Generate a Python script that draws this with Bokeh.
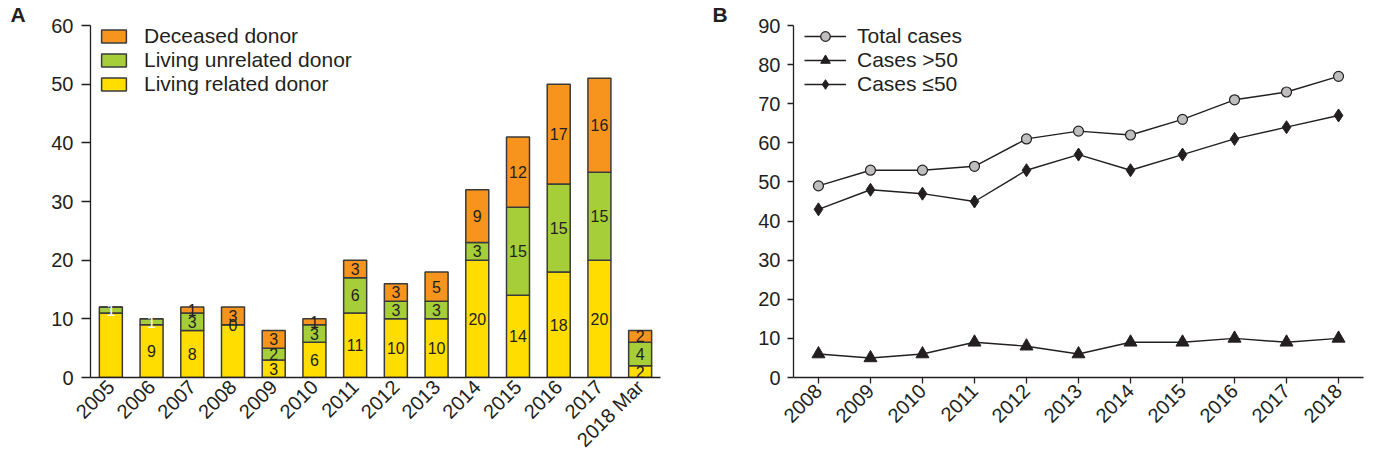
import math
from bokeh.plotting import figure
from bokeh.models import (FactorRange, Range1d, Legend, LegendItem,
                          FixedTicker, ColumnDataSource, Title)
from bokeh.layouts import row
from bokeh.embed import file_html
from bokeh.resources import INLINE
from bokeh.core.properties import value

# ---------------- Panel A data ----------------
years_a = ["2005", "2006", "2007", "2008", "2009", "2010", "2011", "2012",
           "2013", "2014", "2015", "2016", "2017", "2018 Mar"]
related = [11, 9, 8, 9, 3, 6, 11, 10, 10, 20, 14, 18, 20, 2]
unrelated = [1, 1, 3, 0, 2, 3, 6, 3, 3, 3, 15, 15, 15, 4]
deceased = [0, 0, 1, 3, 3, 1, 3, 3, 5, 9, 12, 17, 16, 2]
# labels not printed in the original figure
hidden_related = ["2005", "2008"]
hidden_deceased = ["2005", "2006"]
white_unrelated = ["2005", "2006"]

# ---------------- Panel B data ----------------
years_b = [2008, 2009, 2010, 2011, 2012, 2013, 2014, 2015, 2016, 2017, 2018]
total_cases = [49, 53, 53, 54, 61, 63, 62, 66, 71, 73, 77]
cases_over50 = [6, 5, 6, 9, 8, 6, 9, 9, 10, 9, 10]
cases_under50 = [43, 48, 47, 45, 53, 57, 53, 57, 61, 64, 67]

FONT = "Liberation Sans"
INK = "#231F20"
YELLOW = "#FFDD00"
GREEN = "#A6CE39"
ORANGE = "#F7941D"
EDGE = "#3A3A3A"

H = 461
BT, BB = 25, 84


def panel_title(letter, offset):
    return Title(text=letter, align="left", offset=offset, standoff=0,
                 vertical_align="bottom", text_font=FONT,
                 text_font_size="21px", text_font_style="bold",
                 text_color=INK)


def style_axes(p, xtick_out, xstandoff, ytick_out, ystandoff):
    for ax in (p.xaxis[0], p.yaxis[0]):
        ax.axis_line_color = INK
        ax.axis_line_width = 1.3
        ax.major_tick_line_color = INK
        ax.major_tick_line_width = 1.3
        ax.major_tick_in = 0
        ax.minor_tick_line_color = None
        ax.major_label_text_font = FONT
        ax.major_label_text_font_size = "20px"
        ax.major_label_text_color = INK
    p.yaxis[0].major_tick_out = ytick_out
    p.yaxis[0].major_label_standoff = ystandoff
    p.xaxis[0].major_tick_out = xtick_out
    p.xaxis[0].major_label_standoff = xstandoff
    p.xaxis[0].major_label_orientation = math.pi / 4
    p.xgrid.visible = False
    p.ygrid.visible = False
    p.outline_line_color = None


# ================= Panel A =================
pa = figure(x_range=FactorRange(factors=years_a, range_padding=0),
            y_range=Range1d(0, 60), width=700, height=H,
            title=panel_title("A", -80),
            output_backend="svg", toolbar_location=None,
            min_border_left=90, min_border_right=40,
            min_border_top=BT, min_border_bottom=BB)
style_axes(pa, 0, 6, 9, 8)
pa.yaxis[0].ticker = FixedTicker(ticks=[0, 10, 20, 30, 40, 50, 60])

src = ColumnDataSource(dict(x=years_a, related=related,
                            unrelated=unrelated, deceased=deceased))
rs = pa.vbar_stack(["related", "unrelated", "deceased"], x="x", width=0.565,
                   fill_color=[YELLOW, GREEN, ORANGE], line_color=EDGE,
                   line_width=1.5, source=src)

lx, ly, lt, lc = [], [], [], []
for i, yr in enumerate(years_a):
    r, u, d = related[i], unrelated[i], deceased[i]
    if yr not in hidden_related:
        lx.append(yr); ly.append(r / 2); lt.append(str(r)); lc.append(INK)
    lx.append(yr); ly.append(r + u / 2); lt.append(str(u))
    lc.append("white" if yr in white_unrelated else INK)
    if yr not in hidden_deceased:
        lx.append(yr); ly.append(r + u + d / 2); lt.append(str(d)); lc.append(INK)
pa.text(x="x", y="y", text="t", text_color="c",
        source=ColumnDataSource(dict(x=lx, y=ly, t=lt, c=lc)),
        text_align="center", text_baseline="middle",
        text_font=value(FONT), text_font_size="16px")

leg_a = Legend(items=[LegendItem(label="Deceased donor", renderers=[rs[2]]),
                      LegendItem(label="Living unrelated donor", renderers=[rs[1]]),
                      LegendItem(label="Living related donor", renderers=[rs[0]])],
               location=(8, 281), padding=0, margin=0, spacing=0,
               glyph_width=31, glyph_height=16, label_height=24,
               label_standoff=15, label_text_font=FONT,
               label_text_font_size="21px", label_text_color=INK,
               border_line_color=None, background_fill_alpha=0)
pa.add_layout(leg_a)

# ================= Panel B =================
pb = figure(x_range=Range1d(2007.52, 2018.48), y_range=Range1d(0, 90),
            width=676, height=H, title=panel_title("B", -81),
            output_backend="svg", toolbar_location=None,
            min_border_left=93, min_border_right=13,
            min_border_top=BT, min_border_bottom=BB)
style_axes(pb, 6, 4, 6, 7)
pb.xaxis[0].ticker = FixedTicker(ticks=years_b)
pb.yaxis[0].ticker = FixedTicker(ticks=list(range(0, 91, 10)))

l1 = pb.line(years_b, total_cases, line_color=INK, line_width=1.4)
m1 = pb.scatter(years_b, total_cases, marker="circle", size=10,
                fill_color="#BEBEBE", line_color=INK, line_width=1.2)
l2 = pb.line(years_b, cases_over50, line_color=INK, line_width=1.4)
m2 = pb.scatter(years_b, cases_over50, marker="triangle", size=13,
                fill_color=INK, line_color=INK)
l3 = pb.line(years_b, cases_under50, line_color=INK, line_width=1.4)
m3 = pb.scatter(years_b, cases_under50, marker="diamond", size=13,
                fill_color=INK, line_color=INK)

leg_b = Legend(items=[LegendItem(label="Total cases", renderers=[l1, m1]),
                      LegendItem(label="Cases >50", renderers=[l2, m2]),
                      LegendItem(label="Cases \u226450", renderers=[l3, m3])],
               location=(11, 281), padding=0, margin=0, spacing=0,
               glyph_width=42, glyph_height=24, label_height=24,
               label_standoff=11, label_text_font=FONT,
               label_text_font_size="21px", label_text_color=INK,
               border_line_color=None, background_fill_alpha=0)
pb.add_layout(leg_b)

layout = row(pa, pb)
open("out.html", "w").write(file_html(layout, INLINE))
